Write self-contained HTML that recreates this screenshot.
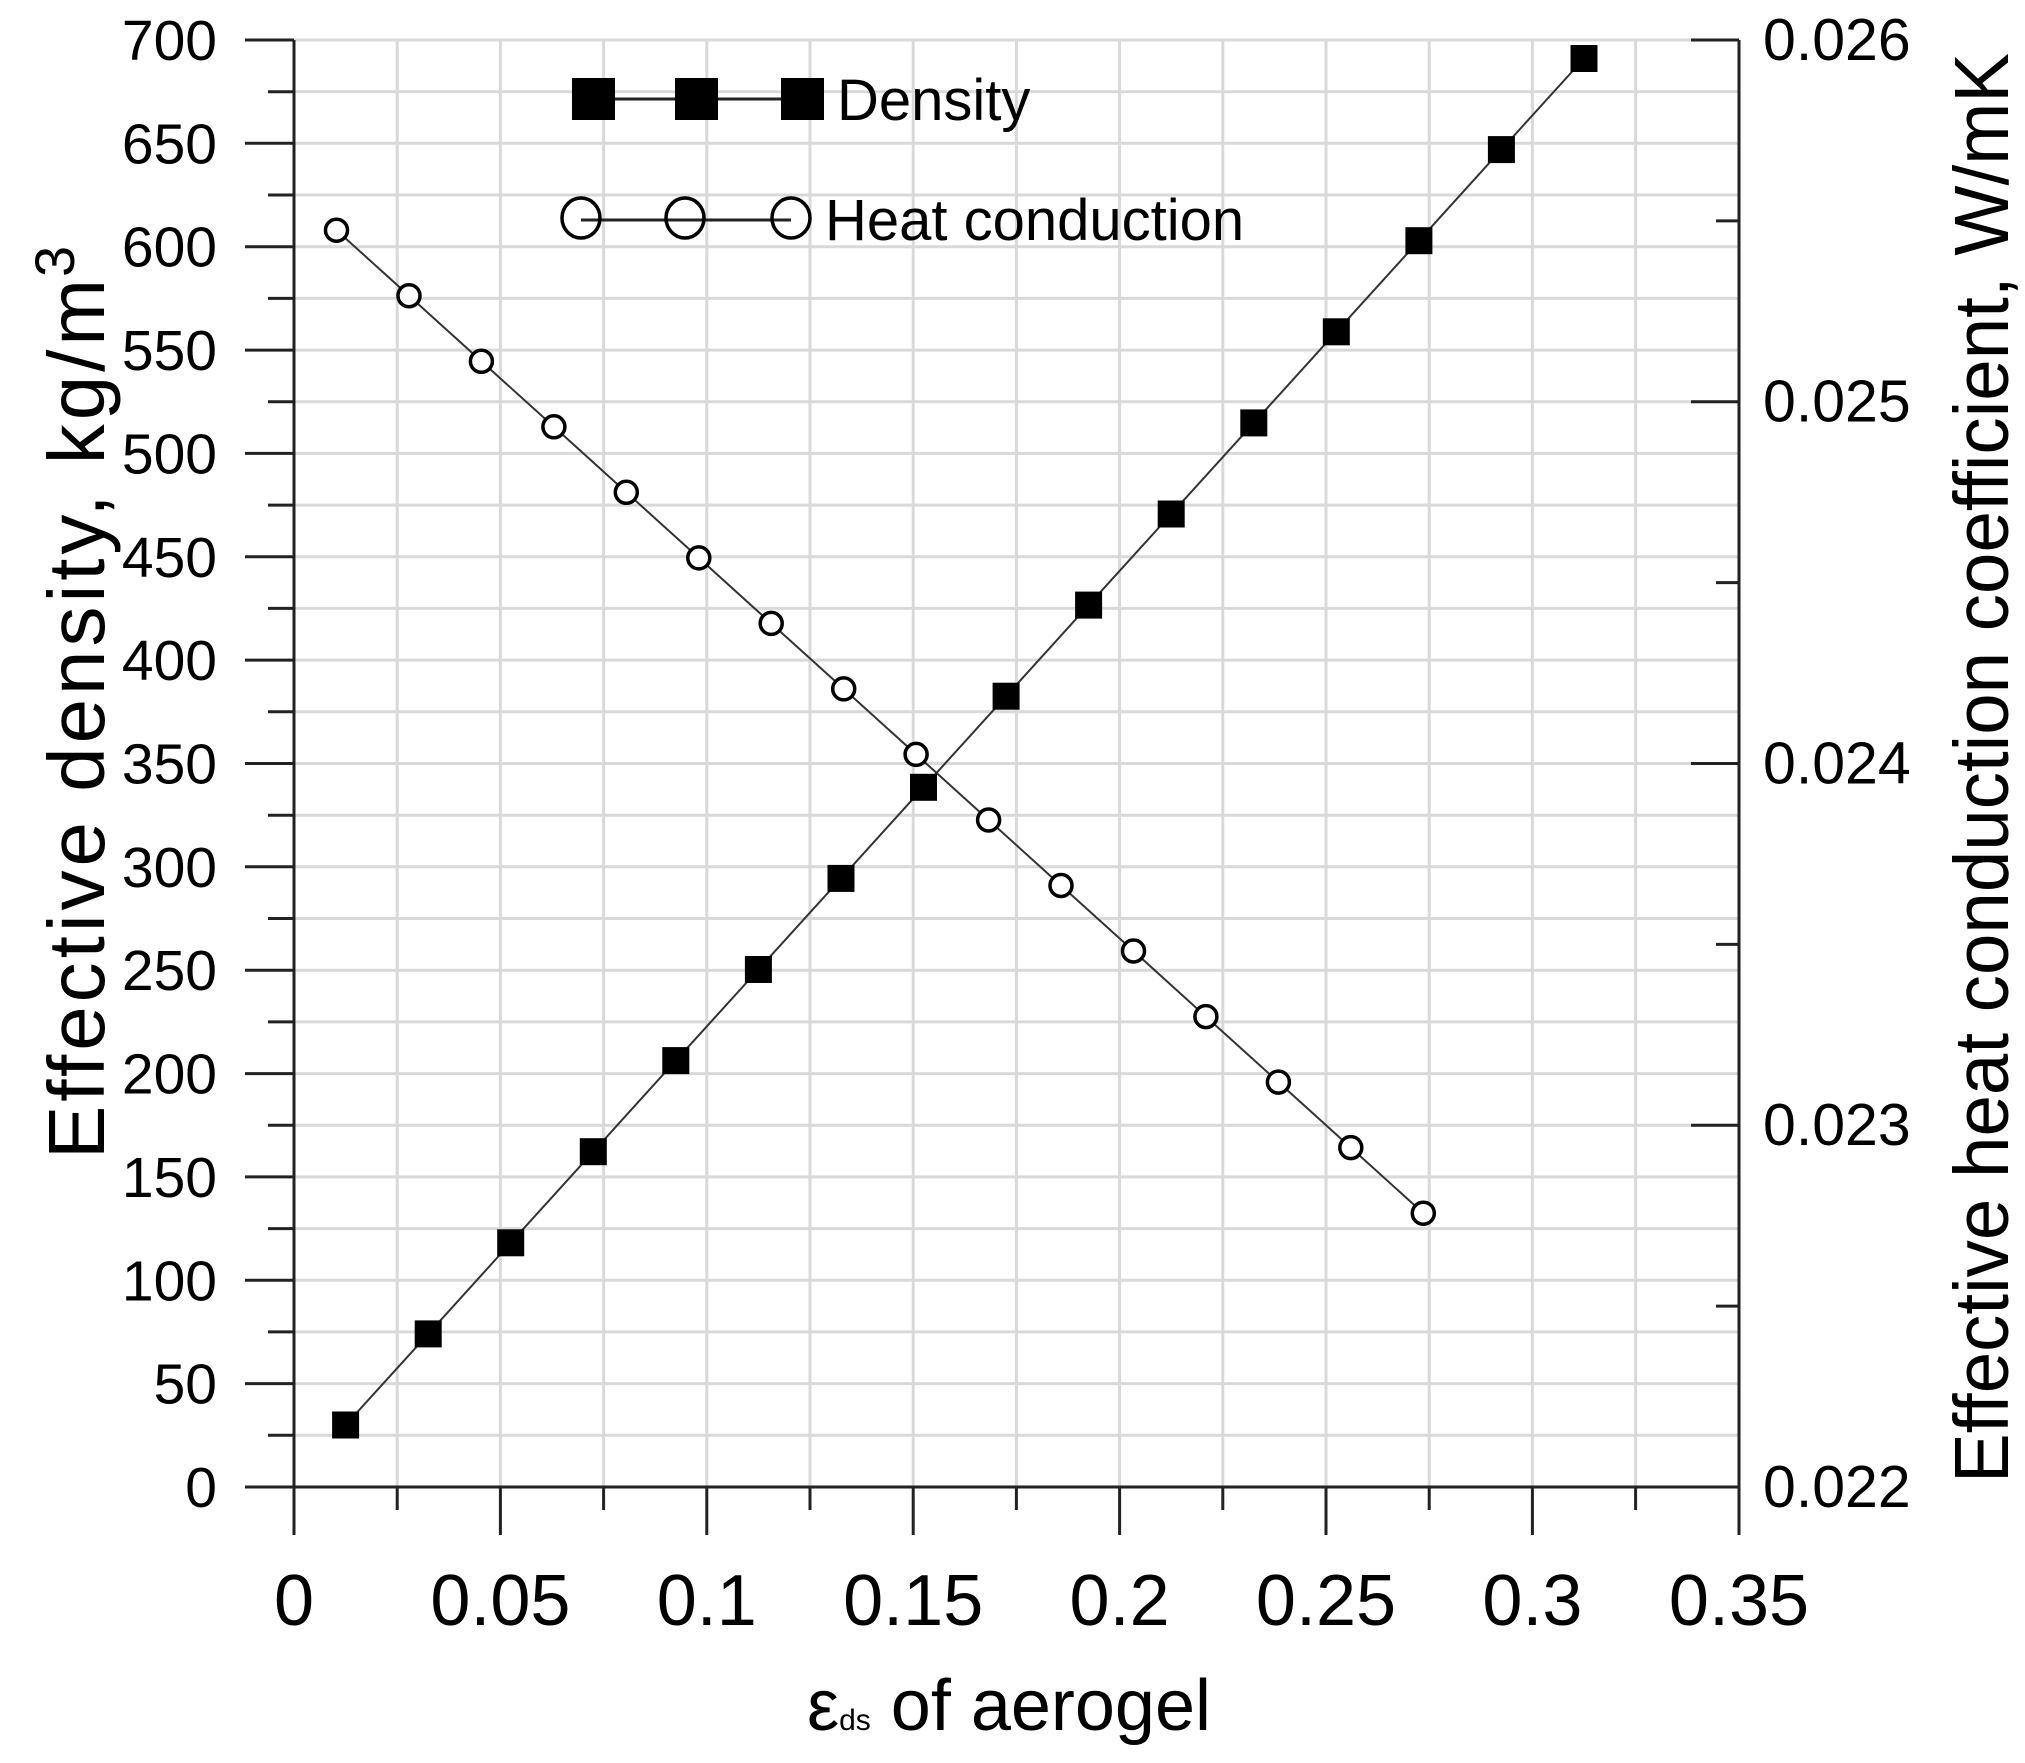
<!DOCTYPE html>
<html><head><meta charset="utf-8"><style>html,body{margin:0;padding:0;background:#fff}svg{display:block}</style></head>
<body>
<svg width="2025" height="1763" viewBox="0 0 2025 1763" xmlns="http://www.w3.org/2000/svg" font-family="Liberation Sans, Arial, sans-serif">
<rect width="2025" height="1763" fill="#fff"/>
<g stroke="#d9d9d9" stroke-width="3">
<line x1="397.2" y1="40" x2="397.2" y2="1487"/><line x1="500.4" y1="40" x2="500.4" y2="1487"/><line x1="603.6" y1="40" x2="603.6" y2="1487"/><line x1="706.8" y1="40" x2="706.8" y2="1487"/><line x1="810" y1="40" x2="810" y2="1487"/><line x1="913.2" y1="40" x2="913.2" y2="1487"/><line x1="1016.4" y1="40" x2="1016.4" y2="1487"/><line x1="1119.6" y1="40" x2="1119.6" y2="1487"/><line x1="1222.8" y1="40" x2="1222.8" y2="1487"/><line x1="1326" y1="40" x2="1326" y2="1487"/><line x1="1429.2" y1="40" x2="1429.2" y2="1487"/><line x1="1532.4" y1="40" x2="1532.4" y2="1487"/><line x1="1635.6" y1="40" x2="1635.6" y2="1487"/>
<line x1="294" y1="1435.3" x2="1739" y2="1435.3"/><line x1="294" y1="1383.6" x2="1739" y2="1383.6"/><line x1="294" y1="1331.9" x2="1739" y2="1331.9"/><line x1="294" y1="1280.3" x2="1739" y2="1280.3"/><line x1="294" y1="1228.6" x2="1739" y2="1228.6"/><line x1="294" y1="1176.9" x2="1739" y2="1176.9"/><line x1="294" y1="1125.2" x2="1739" y2="1125.2"/><line x1="294" y1="1073.6" x2="1739" y2="1073.6"/><line x1="294" y1="1021.9" x2="1739" y2="1021.9"/><line x1="294" y1="970.2" x2="1739" y2="970.2"/><line x1="294" y1="918.5" x2="1739" y2="918.5"/><line x1="294" y1="866.8" x2="1739" y2="866.8"/><line x1="294" y1="815.2" x2="1739" y2="815.2"/><line x1="294" y1="763.5" x2="1739" y2="763.5"/><line x1="294" y1="711.8" x2="1739" y2="711.8"/><line x1="294" y1="660.1" x2="1739" y2="660.1"/><line x1="294" y1="608.4" x2="1739" y2="608.4"/><line x1="294" y1="556.8" x2="1739" y2="556.8"/><line x1="294" y1="505.1" x2="1739" y2="505.1"/><line x1="294" y1="453.4" x2="1739" y2="453.4"/><line x1="294" y1="401.7" x2="1739" y2="401.7"/><line x1="294" y1="350.1" x2="1739" y2="350.1"/><line x1="294" y1="298.4" x2="1739" y2="298.4"/><line x1="294" y1="246.7" x2="1739" y2="246.7"/><line x1="294" y1="195" x2="1739" y2="195"/><line x1="294" y1="143.3" x2="1739" y2="143.3"/><line x1="294" y1="91.7" x2="1739" y2="91.7"/><line x1="294" y1="40" x2="1739" y2="40"/>
</g>
<g stroke="#222" stroke-width="3">
<line x1="294" y1="40" x2="294" y2="1535"/>
<line x1="245" y1="1487" x2="1739" y2="1487"/>
<line x1="1739" y1="40" x2="1739" y2="1487"/>
<line x1="268" y1="1435.3" x2="294" y2="1435.3"/><line x1="245" y1="1383.6" x2="294" y2="1383.6"/><line x1="268" y1="1331.9" x2="294" y2="1331.9"/><line x1="245" y1="1280.3" x2="294" y2="1280.3"/><line x1="268" y1="1228.6" x2="294" y2="1228.6"/><line x1="245" y1="1176.9" x2="294" y2="1176.9"/><line x1="268" y1="1125.2" x2="294" y2="1125.2"/><line x1="245" y1="1073.6" x2="294" y2="1073.6"/><line x1="268" y1="1021.9" x2="294" y2="1021.9"/><line x1="245" y1="970.2" x2="294" y2="970.2"/><line x1="268" y1="918.5" x2="294" y2="918.5"/><line x1="245" y1="866.8" x2="294" y2="866.8"/><line x1="268" y1="815.2" x2="294" y2="815.2"/><line x1="245" y1="763.5" x2="294" y2="763.5"/><line x1="268" y1="711.8" x2="294" y2="711.8"/><line x1="245" y1="660.1" x2="294" y2="660.1"/><line x1="268" y1="608.4" x2="294" y2="608.4"/><line x1="245" y1="556.8" x2="294" y2="556.8"/><line x1="268" y1="505.1" x2="294" y2="505.1"/><line x1="245" y1="453.4" x2="294" y2="453.4"/><line x1="268" y1="401.7" x2="294" y2="401.7"/><line x1="245" y1="350.1" x2="294" y2="350.1"/><line x1="268" y1="298.4" x2="294" y2="298.4"/><line x1="245" y1="246.7" x2="294" y2="246.7"/><line x1="268" y1="195" x2="294" y2="195"/><line x1="245" y1="143.3" x2="294" y2="143.3"/><line x1="268" y1="91.7" x2="294" y2="91.7"/><line x1="245" y1="40" x2="294" y2="40"/>
<line x1="397.2" y1="1487" x2="397.2" y2="1510"/><line x1="500.4" y1="1487" x2="500.4" y2="1535"/><line x1="603.6" y1="1487" x2="603.6" y2="1510"/><line x1="706.8" y1="1487" x2="706.8" y2="1535"/><line x1="810" y1="1487" x2="810" y2="1510"/><line x1="913.2" y1="1487" x2="913.2" y2="1535"/><line x1="1016.4" y1="1487" x2="1016.4" y2="1510"/><line x1="1119.6" y1="1487" x2="1119.6" y2="1535"/><line x1="1222.8" y1="1487" x2="1222.8" y2="1510"/><line x1="1326" y1="1487" x2="1326" y2="1535"/><line x1="1429.2" y1="1487" x2="1429.2" y2="1510"/><line x1="1532.4" y1="1487" x2="1532.4" y2="1535"/><line x1="1635.6" y1="1487" x2="1635.6" y2="1510"/><line x1="1739" y1="1487" x2="1739" y2="1535"/>
<line x1="1691" y1="40" x2="1739" y2="40"/><line x1="1716" y1="220.9" x2="1739" y2="220.9"/><line x1="1691" y1="401.7" x2="1739" y2="401.7"/><line x1="1716" y1="582.6" x2="1739" y2="582.6"/><line x1="1691" y1="763.5" x2="1739" y2="763.5"/><line x1="1716" y1="944.4" x2="1739" y2="944.4"/><line x1="1691" y1="1125.2" x2="1739" y2="1125.2"/><line x1="1716" y1="1306.1" x2="1739" y2="1306.1"/>
</g>
<g font-size="57" text-anchor="end" fill="#000">
<text x="217" y="1507">0</text><text x="217" y="1403.6">50</text><text x="217" y="1300.3">100</text><text x="217" y="1196.9">150</text><text x="217" y="1093.6">200</text><text x="217" y="990.2">250</text><text x="217" y="886.8">300</text><text x="217" y="783.5">350</text><text x="217" y="680.1">400</text><text x="217" y="576.8">450</text><text x="217" y="473.4">500</text><text x="217" y="370.1">550</text><text x="217" y="266.7">600</text><text x="217" y="163.3">650</text><text x="217" y="60">700</text>
</g>
<g font-size="72" text-anchor="middle" fill="#000">
<text x="294" y="1625">0</text><text x="500.4" y="1625">0.05</text><text x="706.8" y="1625">0.1</text><text x="913.2" y="1625">0.15</text><text x="1119.6" y="1625">0.2</text><text x="1326" y="1625">0.25</text><text x="1532.4" y="1625">0.3</text><text x="1739" y="1625">0.35</text>
</g>
<g font-size="59" fill="#000">
<text x="1763" y="60">0.026</text><text x="1763" y="421.7">0.025</text><text x="1763" y="783.5">0.024</text><text x="1763" y="1145.2">0.023</text><text x="1763" y="1507">0.022</text>
</g>
<g transform="translate(104,0) rotate(-90)">
<text x="-1159" y="0" font-size="80" textLength="880" lengthAdjust="spacing">Effective density, kg/m</text>
<text x="-277" y="-30" font-size="56">3</text>
</g>
<text transform="translate(2008,768) rotate(-90)" text-anchor="middle" font-size="77" textLength="1430" lengthAdjust="spacingAndGlyphs">Effective heat conduction coefficient, W/mK</text>
<text x="1009" y="1730" text-anchor="middle" font-size="72">ε<tspan font-size="30">ds</tspan> of aerogel</text>
<polyline fill="none" stroke="#333" stroke-width="2" points="345.6,1425 428.2,1333.9 510.7,1242.8 593.3,1151.7 675.8,1060.6 758.4,969.5 841,878.4 923.5,787.3 1006.1,696.2 1088.6,605.1 1171.2,514 1253.8,422.9 1336.3,331.8 1418.9,240.7 1501.4,149.6 1584,58.5"/>
<polyline fill="none" stroke="#333" stroke-width="2" points="336.5,230.2 409,295.7 481.4,361.3 553.9,426.8 626.3,492.3 698.8,557.9 771.2,623.4 843.7,688.9 916.1,754.4 988.6,820 1061,885.5 1133.5,951 1205.9,1016.6 1278.4,1082.1 1350.8,1147.6 1423.3,1213.2"/>
<g fill="#000">
<rect x="332.1" y="1411.5" width="27" height="27"/><rect x="414.7" y="1320.4" width="27" height="27"/><rect x="497.2" y="1229.3" width="27" height="27"/><rect x="579.8" y="1138.2" width="27" height="27"/><rect x="662.3" y="1047.1" width="27" height="27"/><rect x="744.9" y="956" width="27" height="27"/><rect x="827.5" y="864.9" width="27" height="27"/><rect x="910" y="773.8" width="27" height="27"/><rect x="992.6" y="682.7" width="27" height="27"/><rect x="1075.1" y="591.6" width="27" height="27"/><rect x="1157.7" y="500.5" width="27" height="27"/><rect x="1240.3" y="409.4" width="27" height="27"/><rect x="1322.8" y="318.3" width="27" height="27"/><rect x="1405.4" y="227.2" width="27" height="27"/><rect x="1487.9" y="136.1" width="27" height="27"/><rect x="1570.5" y="45" width="27" height="27"/>
</g>
<g fill="#fff" stroke="#000" stroke-width="3.5">
<circle cx="336.5" cy="230.2" r="11"/><circle cx="409" cy="295.7" r="11"/><circle cx="481.4" cy="361.3" r="11"/><circle cx="553.9" cy="426.8" r="11"/><circle cx="626.3" cy="492.3" r="11"/><circle cx="698.8" cy="557.9" r="11"/><circle cx="771.2" cy="623.4" r="11"/><circle cx="843.7" cy="688.9" r="11"/><circle cx="916.1" cy="754.4" r="11"/><circle cx="988.6" cy="820" r="11"/><circle cx="1061" cy="885.5" r="11"/><circle cx="1133.5" cy="951" r="11"/><circle cx="1205.9" cy="1016.6" r="11"/><circle cx="1278.4" cy="1082.1" r="11"/><circle cx="1350.8" cy="1147.6" r="11"/><circle cx="1423.3" cy="1213.2" r="11"/>
</g>
<line x1="594" y1="99" x2="802" y2="99" stroke="#222" stroke-width="3"/>
<g fill="#000"><rect x="572" y="78" width="43" height="42"/><rect x="675" y="78" width="43" height="42"/><rect x="781" y="78" width="43" height="42"/></g>
<text x="837" y="120" font-size="58">Density</text>
<line x1="581" y1="220" x2="791" y2="220" stroke="#222" stroke-width="3"/>
<g fill="none" stroke="#000" stroke-width="3.5"><ellipse cx="581" cy="218" rx="19" ry="20"/><ellipse cx="685" cy="218" rx="19" ry="20"/><ellipse cx="791" cy="218" rx="19" ry="20"/></g>
<text x="825" y="240" font-size="58">Heat conduction</text>
</svg>
</body></html>
